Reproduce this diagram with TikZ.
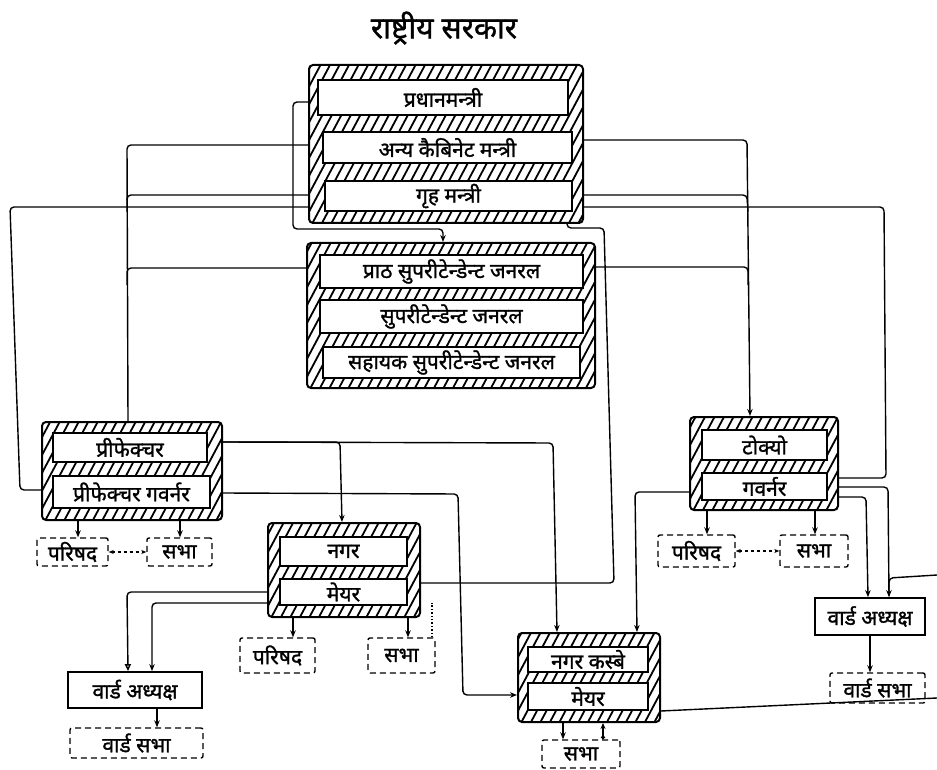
\documentclass[tikz,border=0pt]{standalone}
\usepackage{fontspec}
\setmainfont[Script=Devanagari]{Noto Sans}
\newfontfamily\devheavy[Script=Devanagari,FakeBold=1.2]{Noto Sans}
\usetikzlibrary{arrows.meta,calc}
\pgfdeclarelayer{bg}
\pgfsetlayers{bg,main}
\begin{document}
\begin{tikzpicture}[x=1pt,y=-1pt,
  conn/.style={line width=1.4pt, rounded corners=4pt},
  arr/.style={-{Stealth[length=7pt,width=5.5pt]}},
  hframe/.style={draw, line width=2pt, rounded corners=4pt, fill=white, inner sep=0pt,
    path picture={\foreach \k in {0,...,60}
      \draw[line width=1.8pt] ([xshift={\k*9.5pt-120pt}]path picture bounding box.south west) -- ++(62:260pt);}},
  lbl/.style={font=\devheavy\fontsize{21}{23}\selectfont},
  cellbox/.style={draw, line width=1.6pt, fill=white, inner sep=0pt, lbl},
  dbox/.style={draw, dash pattern=on 6pt off 4pt, line width=1.4pt, rounded corners=2pt, inner sep=0pt, lbl},
  sbox/.style={draw, line width=1.8pt, fill=white, inner sep=0pt, lbl},
]
\useasboundingbox (0,0) rectangle (937,770);

% title
\node[font=\devheavy\fontsize{30}{32}\selectfont] (title) at (444,28) {राष्ट्रीय सरकार};

% national government
\node[hframe, minimum width=274pt, minimum height=158pt] (topF) at (446,144) {};
\node[cellbox, minimum width=250pt, minimum height=35pt] (PM) at (443,97.5) {प्रधानमन्त्री};
\node[cellbox, minimum width=249pt, minimum height=31pt] (AK) at (447.5,147.5) {अन्य कैबिनेट मन्त्री};
\node[cellbox, minimum width=247pt, minimum height=30pt] (GM) at (448.5,196) {गृह मन्त्री};

% superintendents
\node[hframe, minimum width=288pt, minimum height=145pt] (supF) at (451,315.5) {};
\node[cellbox, minimum width=263pt, minimum height=33pt] (S1) at (451.5,271.5) {प्राठ सुपरीटेन्डेन्ट जनरल};
\node[cellbox, minimum width=263pt, minimum height=33pt] (S2) at (451.5,316.5) {सुपरीटेन्डेन्ट जनरल};
\node[cellbox, minimum width=257pt, minimum height=31pt] (S3) at (451.5,362.5) {सहायक सुपरीटेन्डेन्ट जनरल};

% prefecture
\node[hframe, minimum width=180pt, minimum height=98pt] (prefF) at (132,471) {};
\node[cellbox, minimum width=154pt, minimum height=29pt] (P1) at (130,447.5) {प्रीफेक्चर};
\node[cellbox, minimum width=157pt, minimum height=32pt] (P2) at (131.5,492) {प्रीफेक्चर गवर्नर};
\node[dbox, minimum width=71pt, minimum height=28pt] (Pc) at (72.5,552) {परिषद};
\node[dbox, minimum width=65pt, minimum height=28pt] (Ps) at (179.5,552) {सभा};

% city
\node[hframe, minimum width=152pt, minimum height=94pt] (nagF) at (344,570) {};
\node[cellbox, minimum width=127pt, minimum height=29pt] (N1) at (343.5,551.5) {नगर};
\node[cellbox, minimum width=127pt, minimum height=26pt] (N2) at (343.5,592) {मेयर};
\node[dbox, minimum width=75pt, minimum height=35pt] (Nc) at (277.5,655.5) {परिषद};
\node[dbox, minimum width=67pt, minimum height=35pt] (Ns) at (401.5,655.5) {सभा};

% left ward
\node[sbox, minimum width=134pt, minimum height=36pt] (WA1) at (135,690) {वार्ड अध्यक्ष};
\node[dbox, minimum width=133pt, minimum height=30pt] (WS1) at (136.5,743) {वार्ड सभा};

% town
\node[hframe, minimum width=142pt, minimum height=89pt] (kasF) at (589,677.5) {};
\node[cellbox, minimum width=120pt, minimum height=25pt] (K1) at (588,659.5) {नगर कस्बे};
\node[cellbox, minimum width=120pt, minimum height=27pt] (K2) at (588,696.5) {मेयर};
\node[dbox, minimum width=78pt, minimum height=28pt] (Ks) at (581,754) {सभा};

% Tokyo
\node[hframe, minimum width=148pt, minimum height=93pt] (tokF) at (764,463.5) {};
\node[cellbox, minimum width=125pt, minimum height=30pt] (T1) at (764.5,445) {टोक्यो};
\node[cellbox, minimum width=125pt, minimum height=27pt] (T2) at (764.5,486.5) {गवर्नर};
\node[dbox, minimum width=77pt, minimum height=32pt] (Tc) at (696.5,551) {परिषद};
\node[dbox, minimum width=68pt, minimum height=32pt] (Ts) at (814,551) {सभा};
\node[sbox, minimum width=110pt, minimum height=37pt] (WA2) at (870,616.5) {वार्ड अध्यक्ष};
\node[dbox, minimum width=95pt, minimum height=30pt] (WS2) at (877.5,688) {वार्ड सभा};

\coordinate (edgeA) at (937,698);
\coordinate (edgeB) at (937,575);

\begin{pgfonlayer}{bg}
\fill[white] (0,0) rectangle (937,770);
% from the top box
\draw[conn,arr] (topF.west |- 0,102) -- (293,102) -- (293,229) -- (443,229) -- (443,0 |- supF.north);
\draw[conn] (topF.west |- 0,145) -- (127,145) -- (128,0 |- prefF.north);
\draw[conn] (topF.west |- 0,195) -- (127,195) -- (127,212);
\draw[conn] (supF.west |- 0,268) -- (127,268) -- (127,285);
\draw[conn] (topF.west |- 0,207) -- (10,207) -- (20,490) -- (prefF.west |- 0,490);
\draw[conn,arr] (topF.east |- 0,140) -- (747,140) -- (750,0 |- tokF.north);
\draw[conn] (topF.east |- 0,195) -- (747,195) -- (748,212);
\draw[conn] (supF.east |- 0,267) -- (748,267) -- (748,285);
\draw[conn] (topF.east |- 0,207) -- (884,207) -- (886,478) -- (tokF.east |- 0,478);
\draw[conn] (567,0 |- topF.south) -- (567,228) -- (604,228) -- (614,583) -- (nagF.east |- 0,583);
% from the prefecture
\draw[conn,arr] (prefF.east |- 0,442) -- (340,442) -- (342,0 |- nagF.north);
\draw[conn,arr] (prefF.east |- 0,442) -- (553,443) -- (557,0 |- kasF.north);
\draw[conn,arr] (prefF.east |- 0,493) -- (458,494) -- (463,695) -- (kasF.west |- 0,695);
\draw[conn,arr] (78,0 |- prefF.south) -- (78,0 |- Pc.north);
\draw[conn,arr] (180,0 |- prefF.south) -- (180,0 |- Ps.north);
\draw[conn,dashed,{Stealth[length=5pt,width=4pt]}-{Stealth[length=5pt,width=4pt]}] (Pc.east) -- (Ps.west);
% from Tokyo
\draw[conn,arr] (tokF.west |- 0,492) -- (635,492) -- (637,0 |- kasF.north);
\draw[conn,arr] (tokF.east |- 0,487) -- (888,487) -- (889,0 |- WA2.north);
\draw[conn,arr] (tokF.east |- 0,497) -- (866,497) -- (868,0 |- WA2.north);
\draw[conn] (edgeB) -- (889,578) -- (889,596);
\draw[conn,arr] (870,0 |- WA2.south) -- (870,0 |- WS2.north);
\draw[conn,arr] (707,0 |- tokF.south) -- (707,0 |- Tc.north);
\draw[conn,arr] (815,0 |- tokF.south) -- (815,0 |- Ts.north);
\draw[conn,dashed,{Stealth[length=5pt,width=4pt]}-{Stealth[length=5pt,width=4pt]}] (Tc.east) -- (Ts.west);
% from the city
\draw[conn,arr] (293,0 |- nagF.south) -- (293,0 |- Nc.north);
\draw[conn,arr] (408,0 |- nagF.south) -- (408,0 |- Ns.north);
\draw[conn,dotted] (432,0 |- Ns.north) -- (432,603);
\draw[conn,-{Triangle[open,length=7pt,width=6pt]}] (nagF.west |- 0,592) -- (127,592) -- (128,0 |- WA1.north);
\draw[conn,arr] (nagF.west |- 0,603) -- (152,603) -- (152,0 |- WA1.north);
\draw[conn,arr] (157,0 |- WA1.south) -- (157,0 |- WS1.north);
% from the town
\draw[conn] (kasF.east |- 0,711) -- (edgeA);
\draw[conn,arr] (563,0 |- kasF.south) -- (563,0 |- Ks.north);
\draw[conn,{Circle[length=4pt]}-{Stealth[length=6pt,width=5pt]}] (603,0 |- Ks.north) -- (603,0 |- kasF.south);
\end{pgfonlayer}
\end{tikzpicture}
\end{document}
